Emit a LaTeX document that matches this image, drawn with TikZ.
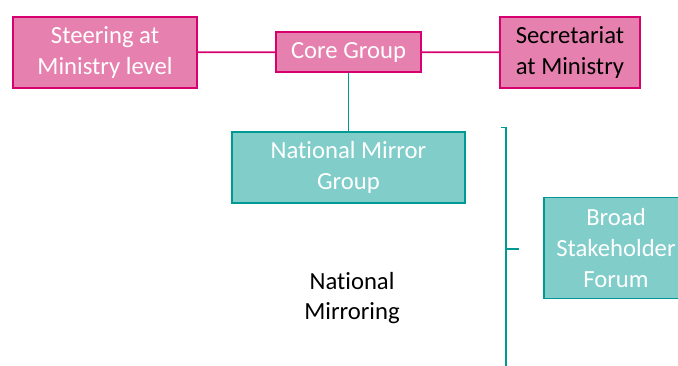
\documentclass[tikz,border=0pt]{standalone}
\usepackage{fontspec}
\setmainfont{Carlito}[Ligatures=NoCommon]
\definecolor{pinkfill}{RGB}{230,128,174}
\definecolor{pinkline}{RGB}{214,0,110}
\definecolor{tealfill}{RGB}{128,205,202}
\definecolor{tealline}{RGB}{0,153,148}
\tikzset{
  pinkbox/.style={draw=pinkline,fill=pinkfill,line width=1.2pt,inner sep=0pt,align=center,font=\fontsize{18.5}{23}\selectfont},
  tealbox/.style={draw=tealline,fill=tealfill,line width=1.2pt,inner sep=0pt,align=center,text=white,font=\fontsize{18.5}{23}\selectfont},
  pinklink/.style={draw=pinkline,line width=1.3pt},
  teallink/.style={draw=tealline,line width=1.3pt}
}
\begin{document}
\begin{tikzpicture}[x=0.75pt,y=0.75pt,yscale=-1]
\useasboundingbox (0,0) rectangle (678,365);
\clip (0,0) rectangle (678,365);

\node [pinkbox,text=white,minimum width=138pt,minimum height=53pt] (steer) at (105,52.5) {Steering at\\Ministry level};
\node [pinkbox,text=white,minimum width=108.5pt,minimum height=30pt] (core) at (348.5,52) {Core Group};
\node [pinkbox,text=black,minimum width=105pt,minimum height=53pt] (secr) at (570,52.5) {Secretariat\\at Ministry};
\node [tealbox,minimum width=174.5pt,minimum height=53pt] (nmg) at (348.5,167.5) {National Mirror\\Group};
\node [tealbox,minimum width=105pt,minimum height=76pt,anchor=west] (bsf) at (543,248) {};
\node [text=white,align=center,font=\fontsize{18.5}{23}\selectfont] (bsft) at (616,248) {Broad\\Stakeholder\\Forum};

\draw [pinklink] (steer) -- (core);
\draw [pinklink] (core) -- (secr);
\draw [teallink] (core) -- (nmg);

% bracket
\coordinate (brtop) at (501,127.5);
\coordinate (brmid) at (519,249);
\draw [teallink] (brtop) -- (506,127.5) -- (506,366);
\draw [teallink] (506,249) -- (brmid);

\node [align=center,font=\fontsize{18.5}{23}\selectfont] (nmir) at (352,298) {National\\Mirroring};

\end{tikzpicture}
\end{document}
